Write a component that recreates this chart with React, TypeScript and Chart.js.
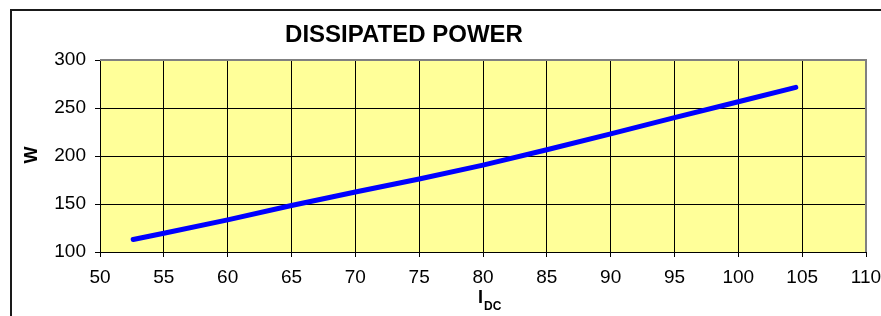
import React, { useEffect, useRef } from "react";
import { Chart, registerables } from "chart.js";

Chart.register(...registerables);

const currentIdc: number[] = [52.6, 55, 60, 65, 70, 75, 80, 85, 90, 95, 100, 104.5];
const powerW: number[] = [113, 119.5, 133.5, 148.5, 162.5, 176, 190.5, 206.5, 223, 240, 256.5, 271.5];
const chartTitle = "DISSIPATED POWER";
const yTitle = "W";
const xTitleMain = "I";
const xTitleSub = "DC";

const FONT = "Arial, 'Liberation Sans', sans-serif";

const decorPlugin = {
  id: "decor",
  beforeDraw(chart: any) {
    const { ctx, chartArea } = chart;
    ctx.save();
    ctx.fillStyle = "#FFFF99";
    ctx.fillRect(chartArea.left, chartArea.top, chartArea.right - chartArea.left, chartArea.bottom - chartArea.top);
    ctx.strokeStyle = "#1a1a1a";
    ctx.lineWidth = 2;
    ctx.beginPath();
    ctx.moveTo(11, chart.height + 2);
    ctx.lineTo(11, 10);
    ctx.lineTo(chart.width + 2, 10);
    ctx.stroke();
    ctx.restore();
  },
  afterDraw(chart: any) {
    const { ctx, chartArea } = chart;
    ctx.save();
    ctx.strokeStyle = "#808080";
    ctx.lineWidth = 2;
    ctx.beginPath();
    ctx.moveTo(chartArea.left, chartArea.top);
    ctx.lineTo(chartArea.right, chartArea.top);
    ctx.lineTo(chartArea.right, chartArea.bottom);
    ctx.stroke();
    ctx.fillStyle = "#000";
    ctx.font = `bold 24px ${FONT}`;
    ctx.textAlign = "center";
    ctx.textBaseline = "alphabetic";
    ctx.fillText(chartTitle, 404, 42);
    ctx.save();
    ctx.translate(37, 155);
    ctx.rotate(-Math.PI / 2);
    ctx.font = `bold 18px ${FONT}`;
    ctx.textAlign = "center";
    ctx.fillText(yTitle, 0, 0);
    ctx.restore();
    ctx.textAlign = "left";
    ctx.font = `bold 18px ${FONT}`;
    ctx.fillText(xTitleMain, 478, 303);
    ctx.font = `bold 12px ${FONT}`;
    ctx.fillText(xTitleSub, 484, 309.5);
    ctx.restore();
  },
};

export default function App() {
  const ref = useRef<HTMLCanvasElement | null>(null);
  useEffect(() => {
    if (!ref.current) return;
    const chart = new Chart(ref.current, {
      type: "line",
      data: {
        datasets: [
          {
            data: currentIdc.map((x, i) => ({ x, y: powerW[i] })),
            borderColor: "#0000FF",
            borderWidth: 5,
            borderCapStyle: "round",
            borderJoinStyle: "round",
            pointRadius: 0,
            tension: 0,
            fill: false,
          },
        ],
      },
      options: {
        animation: false,
        responsive: false,
        devicePixelRatio: 1,
        layout: { padding: { left: 0, top: 60, right: 0, bottom: 0 } },
        plugins: { legend: { display: false }, title: { display: false }, tooltip: { enabled: false } },
        scales: {
          x: {
            type: "linear",
            min: 50,
            max: 110,
            ticks: { stepSize: 5, color: "#000", padding: 9, font: { family: FONT, size: 19 }, maxRotation: 0 },
            grid: { color: "#000", lineWidth: 1, tickLength: 5, drawTicks: true },
            border: { color: "#000", width: 1 },
            afterFit: (s: any) => {
              s.height = 64;
              s.paddingRight = 15;
            },
          },
          y: {
            type: "linear",
            min: 100,
            max: 300,
            ticks: { stepSize: 50, color: "#000", padding: 9, font: { family: FONT, size: 19 } },
            grid: { color: "#000", lineWidth: 1, tickLength: 5, drawTicks: true },
            border: { color: "#000", width: 1 },
            afterFit: (s: any) => {
              s.width = 100;
            },
          },
        },
      },
      plugins: [decorPlugin],
    });
    return () => chart.destroy();
  }, []);
  return (
    <div style={{ position: "fixed", left: 0, top: 0, width: 881, height: 316, background: "#fff" }}>
      <canvas ref={ref} width={881} height={316} style={{ display: "block", width: 881, height: 316 }} />
    </div>
  );
}
